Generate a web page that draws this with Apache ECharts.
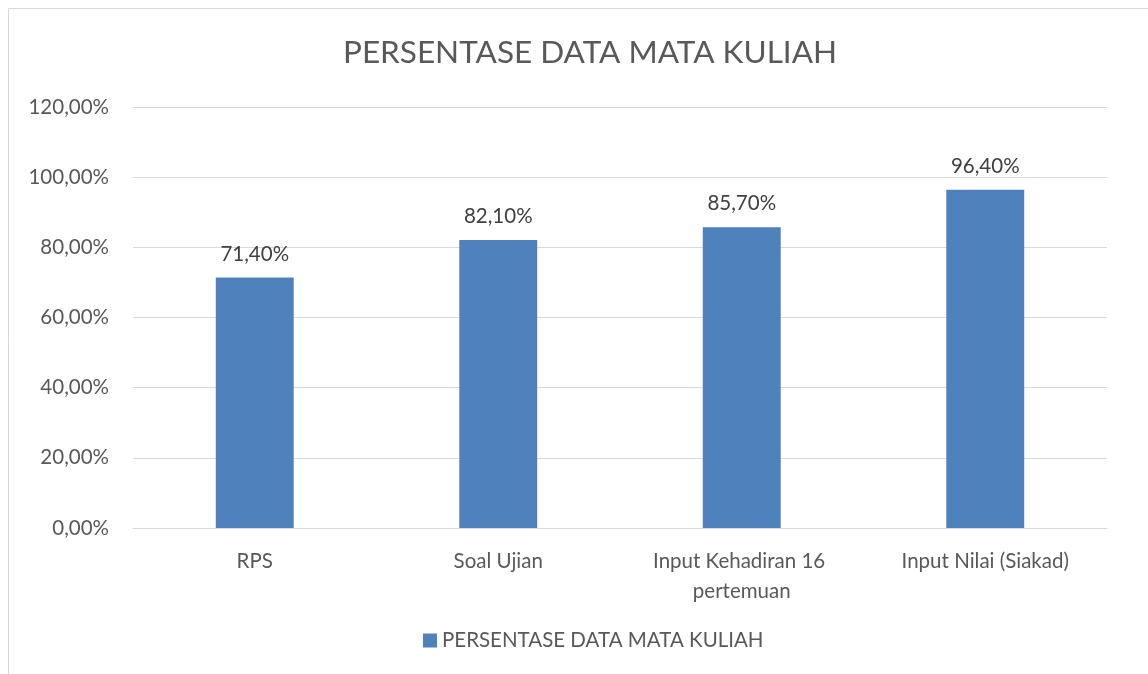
<!DOCTYPE html>
<html>
<head>
<meta charset="utf-8">
<style>
  html, body { margin: 0; padding: 0; background: #fff; }
  #chart { width: 1148px; height: 674px; }
</style>
<script src="https://cdn.jsdelivr.net/npm/echarts@6/dist/echarts.min.js"></script>
</head>
<body>
<div id="chart"></div>
<script>
const categories = ['RPS', 'Soal Ujian', 'Input Kehadiran 16 pertemuan', 'Input Nilai (Siakad)']
const values = [71.4, 82.1, 85.7, 96.4]
const seriesName = 'PERSENTASE DATA MATA KULIAH'
const chartTitle = 'PERSENTASE DATA MATA KULIAH'

const fmt = v => v.toFixed(2).replace('.', ',') + '%'
const font = 'Lato, "Open Sans", sans-serif'

const chart = echarts.init(document.getElementById('chart'))
chart.setOption({
  animation: false,
  textStyle: { fontFamily: font },
  // chart frame, right and bottom edges fall outside the picture
  graphic: [{
    type: 'rect',
    shape: { x: 8.5, y: 8.5, width: 1200, height: 700 },
    style: { fill: 'none', stroke: '#d9d9d9', lineWidth: 1 },
    silent: true
  }],
  title: {
    text: chartTitle,
    left: 338,
    top: 32,
    textStyle: { color: '#595959', fontSize: 31.5, fontWeight: 'normal', fontFamily: font }
  },
  legend: {
    bottom: 18,
    left: 418,
    icon: 'rect',
    itemWidth: 14,
    itemHeight: 14,
    itemGap: 8,
    textStyle: { color: '#595959', fontSize: 20.5, fontFamily: font },
    data: [seriesName]
  },
  grid: { left: 133, right: 41, top: 107, bottom: 146 },
  xAxis: {
    type: 'category',
    data: categories,
    axisLine: { lineStyle: { color: '#d9d9d9', width: 1 } },
    axisTick: { show: false },
    axisLabel: {
      color: '#595959',
      fontSize: 20.5,
      margin: 18,
      lineHeight: 30,
      width: 210,
      overflow: 'break',
      interval: 0
    }
  },
  yAxis: {
    type: 'value',
    min: 0,
    max: 120,
    interval: 20,
    axisLine: { show: false },
    axisTick: { show: false },
    splitLine: { lineStyle: { color: '#d9d9d9', width: 1 } },
    axisLabel: {
      color: '#595959',
      fontSize: 20.5,
      margin: 24,
      formatter: fmt
    }
  },
  series: [{
    name: seriesName,
    type: 'bar',
    data: values,
    barWidth: '32%',
    itemStyle: { color: '#4f81bd' },
    label: {
      show: true,
      position: 'top',
      distance: 13,
      color: '#404040',
      fontSize: 20.5,
      formatter: p => fmt(p.value)
    }
  }]
})
</script>
</body>
</html>
